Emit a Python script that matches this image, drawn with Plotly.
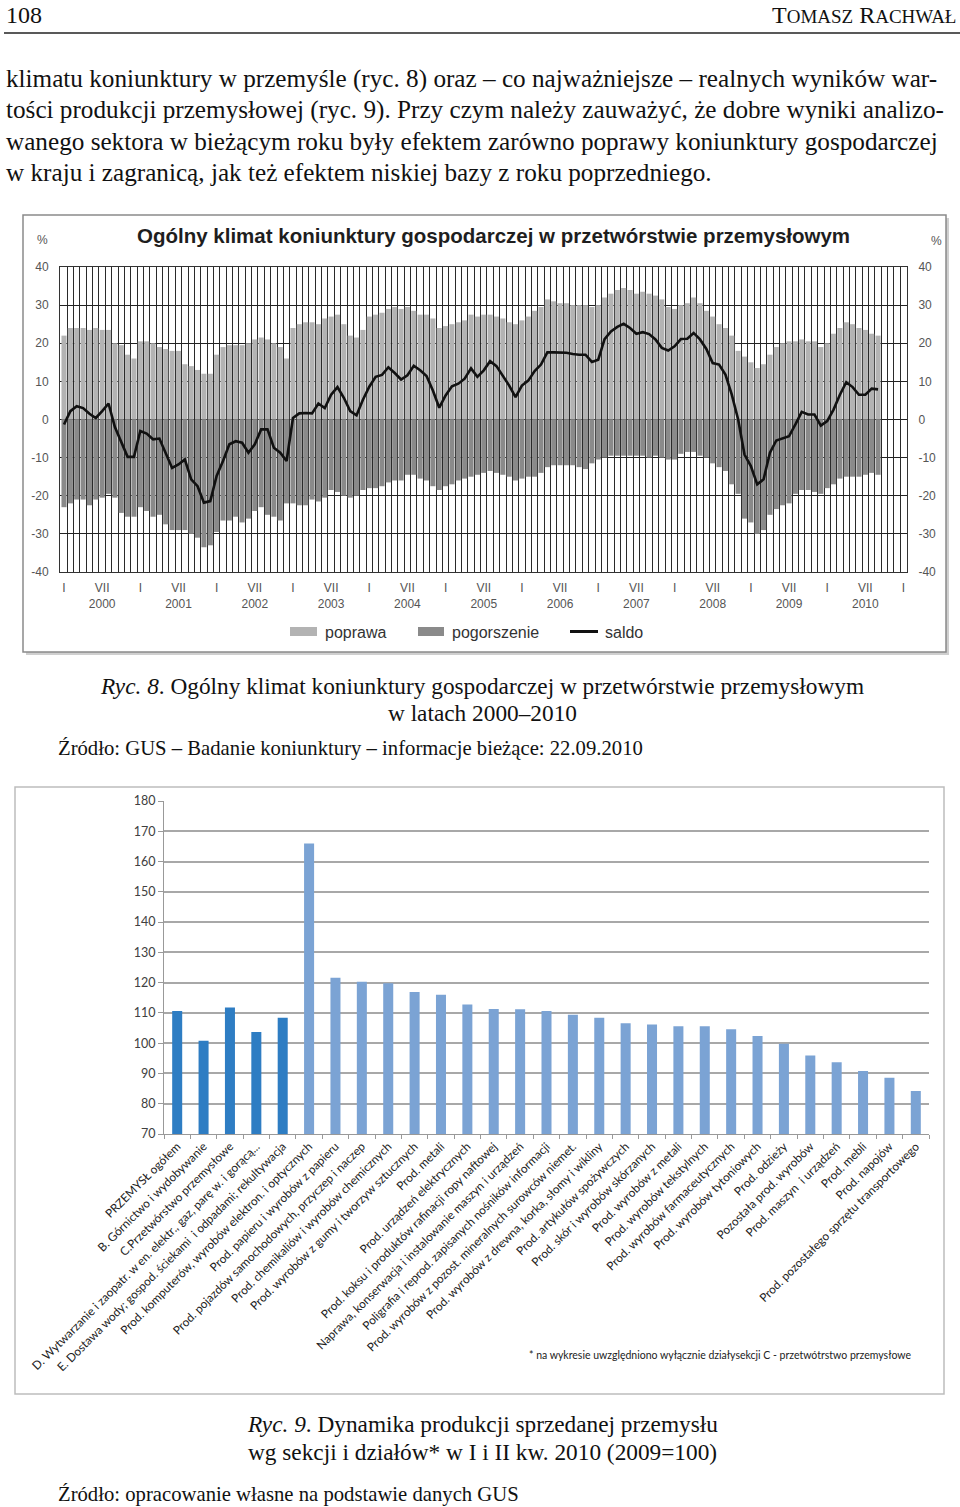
import plotly.graph_objects as go

W, H = 960, 1507


def px(x):
    return x / W


def py(y):
    return 1 - y / H


# ---------------- Ryc. 8 data (monthly, I 2000 - IX 2010) ----------------
poprawa = [
    22, 24, 24, 24, 23.5, 24, 23.5, 23.5, 20, 19.5, 17, 16,
    20.5, 20.5, 20, 19, 18.5, 18, 18, 14.5, 14, 13, 12, 12,
    17, 19, 19.5, 19.5, 19.5, 20, 21, 21.5, 21, 20, 19, 16,
    24, 25, 25.5, 25.5, 25, 26.5, 27, 27.5, 25, 22, 21.5, 23.5,
    27, 27.5, 28, 29, 29.5, 29, 29.5, 28.5, 27.5, 27.5, 26.5, 24,
    24.5, 25, 25.5, 26, 27.5, 27, 27.5, 27.5, 27, 26.5, 25.5, 25,
    26, 27, 28.5, 29.5, 31.5, 31, 30.5, 30.5, 30, 30, 30, 29.5,
    30, 32, 33, 34, 34.5, 34, 33, 33.5, 33, 32.5, 31.5, 29.5,
    29, 30, 30.5, 32, 30.5, 28.5, 27, 25, 24, 22, 18, 16.5,
    15, 13.5, 14.5, 17, 19, 20, 20.5, 20.5, 21, 20.5, 20.5, 19,
    20, 22.5, 24, 25.5, 25, 24, 23.5, 22.5, 22,
]
pogorszenie = [
    -23, -22, -21, -21, -22.5, -21, -20.5, -19.5, -20.5, -24.5, -25.5, -25.5,
    -23, -24, -25.5, -25, -27.5, -29, -29, -29, -30, -31, -33.5, -33,
    -29.5, -26.5, -26.5, -25.5, -27, -26, -24, -23, -25, -25.5, -26.5, -22,
    -22, -22.5, -22.5, -21, -21.5, -20.5, -18.5, -19, -20, -20.5, -20, -18.5,
    -18, -18, -17.5, -16.5, -16, -16, -14.5, -14.5, -15.5, -16, -17.5, -18.5,
    -17.5, -17, -16, -15.5, -15, -14.5, -14, -13.5, -14, -14.5, -15, -16,
    -15.5, -15, -15, -14, -12.5, -12, -12, -12, -12, -12.5, -13, -11.5,
    -10.5, -10, -9.5, -9.5, -9.5, -9.5, -9.5, -9.5, -10, -9.5, -10, -10.5,
    -10.5, -9, -8.5, -8.5, -9.5, -10, -11.5, -12.5, -13.5, -17, -19.5, -26,
    -27, -30, -29, -25, -23.5, -22.5, -22, -19.5, -18.5, -18.5, -19, -19.5,
    -18, -17, -15.5, -15, -15, -15, -14.5, -14, -14.5,
]
saldo = [
    -1.3, 2.2, 3.5, 3, 1.5, 0.4, 2.2, 4.2, -2, -6, -9.8, -9.8,
    -3, -3.7, -5.2, -5, -9, -12.7, -11.8, -10.5, -15.7, -17.5, -21.8, -21.4,
    -14.8, -10.9, -6.5, -5.7, -6.1, -8.7, -6.5, -2.6, -2.6, -7.4, -8.7, -10.9,
    0.4, 1.6, 1.7, 1.6, 4.2, 3, 6.5, 8.5, 5.7, 2.2, 1.1, 5.2,
    8.6, 11.2, 11.7, 13.7, 12.2, 10.5, 11.6, 14.1, 12.9, 11.4, 7.6, 3.1,
    6.3, 8.7, 9.4, 10.7, 13.4, 11.2, 12.9, 15.3, 14, 11.5, 8.9, 5.9,
    8.9, 10.2, 12.7, 14.4, 17.6, 17.6, 17.5, 17.5, 17.2, 17, 17, 15.1,
    15.7, 21.1, 23.1, 24.3, 25.1, 24, 22.5, 22.9, 22.4, 21, 18.8, 18.1,
    19.2, 21.1, 21.2, 22.7, 21, 18.5, 14.8, 14.4, 11.8, 6.5, 0, -9.2,
    -12.2, -17, -15.7, -8.7, -5.5, -5, -4.4, -1.3, 2, 1.3, 1.3, -1.6,
    -0.4, 2.6, 6.5, 9.8, 8.5, 6.5, 6.5, 8.1, 7.9,
]
assert len(poprawa) == len(pogorszenie) == len(saldo) == 129
months = list(range(len(saldo)))  # 0 = I 2000
first_year = 2000
tick_months = list(range(0, 133, 6))
tick_labels = ["I" if m % 12 == 0 else "VII<br>%d" % (first_year + m // 12) for m in tick_months]
y8_ticks = [40, 30, 20, 10, 0, -10, -20, -30, -40]

# ---------------- Ryc. 9 data ----------------
categories = [
    "PRZEMYSŁ ogółem",
    "B. Górnictwo i wydobywanie",
    "C.Przetwórstwo przemysłowe",
    "D. Wytwarzanie i zaopatr. w en. elektr., gaz, parę w. i gorącą...",
    "E. Dostawa wody; gospod. ściekami  i odpadami; rekultywacja",
    "Prod. komputerów, wyrobów elektron. i optycznych",
    "Prod. papieru i wyrobów z papieru",
    "Prod. pojazdów samochodowych, przyczep i naczep",
    "Prod. chemikaliów i wyrobów chemicznych",
    "Prod. wyrobów z gumy i tworzyw sztucznych",
    "Prod. metali",
    "Prod. urządzeń elektrycznych",
    "Prod. koksu i produktów rafinacji ropy naftowej",
    "Naprawa, konserwacja i instalowanie maszyn i urządzeń",
    "Poligrafia i reprod. zapisanych nośników informacji",
    "Prod. wyrobów z pozost. mineralnych surowców niemet.",
    "Prod. wyrobów z drewna, korka, słomy i wikliny",
    "Prod. artykułów spożywczych",
    "Prod. skór i wyrobów skórzanych",
    "Prod. wyrobów z metali",
    "Prod. wyrobów tekstylnych",
    "Prod. wyrobów farmaceutycznych",
    "Prod. wyrobów tytoniowych",
    "Prod. odzieży",
    "Pozostała prod. wyrobów",
    "Prod. maszyn  i urządzeń",
    "Prod. mebli",
    "Prod. napojów",
    "Prod. pozostałego sprzętu transportowego",
]
dynamika = [110.6, 100.8, 111.8, 103.7, 108.4, 166.0, 121.6, 120.3, 119.8, 116.9,
            116.0, 112.8, 111.3, 111.2, 110.6, 109.4, 108.4, 106.6, 106.2, 105.6,
            105.6, 104.6, 102.4, 99.8, 95.9, 93.7, 90.8, 88.6, 84.2]
level = ["sekcja"] * 5 + ["dział"] * 24
assert len(categories) == len(dynamika) == len(level)
level_colors = {"sekcja": "#2e7dc3", "dział": "#7ba3d4"}

fig = go.Figure()

# Ryc. 8 traces
fig.add_trace(go.Bar(x=months, y=poprawa, marker=dict(color="#b3b3b3", line=dict(width=0)),
                     width=0.8, xaxis="x", yaxis="y", showlegend=False, name="poprawa"))
fig.add_trace(go.Bar(x=months, y=pogorszenie, marker=dict(color="#8a8a8a", line=dict(width=0)),
                     width=0.8, xaxis="x", yaxis="y", showlegend=False, name="pogorszenie"))
fig.add_trace(go.Scatter(x=months, y=saldo, mode="lines", line=dict(color="#111111", width=2.6),
                         xaxis="x", yaxis="y2", showlegend=False, name="saldo"))

# Ryc. 9 trace
fig.add_trace(go.Bar(x=categories, y=dynamika, marker=dict(color=[level_colors[l] for l in level], line=dict(width=0)),
                     xaxis="x2", yaxis="y3", showlegend=False))

axis_font8 = dict(family="Liberation Sans, Arial", size=12, color="#555555")

fig.update_layout(
    width=W, height=H,
    margin=dict(l=0, r=0, t=0, b=0),
    paper_bgcolor="white", plot_bgcolor="white",
    template="none",
    barmode="overlay",
    bargap=0.62,
    xaxis=dict(domain=[px(60), px(907)], anchor="y", range=[-0.63, 132.55],
               tickmode="array", tickvals=tick_months, ticktext=tick_labels,
               tickfont=axis_font8, ticks="outside", ticklen=5, tickcolor="rgba(0,0,0,0)",
               showgrid=False, zeroline=False, showline=True, linecolor="#333", linewidth=1, mirror=True,
               minor=dict(tick0=0.5, dtick=1, showgrid=True, gridcolor="#2a2a2a", gridwidth=1, ticks=""),
               automargin=False, fixedrange=True),
    yaxis=dict(domain=[py(572), py(267)], anchor="x", range=[-40, 40],
               tickmode="array", tickvals=y8_ticks, ticktext=[str(v) for v in y8_ticks],
               tickfont=axis_font8, ticks="outside", ticklen=8, tickcolor="rgba(0,0,0,0)",
               showgrid=True, gridcolor="#222", gridwidth=1, zeroline=False,
               showline=True, linecolor="#333", mirror=True, automargin=False),
    yaxis2=dict(overlaying="y", side="right", anchor="x", range=[-40, 40],
                tickmode="array", tickvals=y8_ticks, ticktext=[str(v) for v in y8_ticks],
                tickfont=axis_font8, ticks="outside", ticklen=8, tickcolor="rgba(0,0,0,0)",
                showgrid=False, zeroline=False, showline=False, automargin=False),
    xaxis2=dict(domain=[px(164), px(929)], anchor="y3", type="category",
                tickangle=-45, tickfont=dict(family="Lato, Carlito, Calibri", size=11.8, color="#222"),
                ticks="outside", tickson="boundaries", ticklen=4, tickcolor="#999",
                showgrid=False, zeroline=False, showline=True, linecolor="#999", linewidth=1,
                automargin=False),
    yaxis3=dict(domain=[py(1134), py(801)], anchor="x2", range=[70, 180], dtick=10, tick0=70,
                tickfont=dict(family="Lato, Carlito, Calibri", size=12.5, color="#404040"),
                ticks="outside", ticklen=5, tickcolor="#999",
                showgrid=True, gridcolor="#a8a8a8", gridwidth=2, zeroline=False,
                showline=True, linecolor="#999", automargin=False),
)

shapes = []
# header rule
shapes.append(dict(type="line", xref="paper", yref="paper", x0=px(4), x1=px(960), y0=py(33), y1=py(33),
                   line=dict(color="#222", width=1.5)))
# Ryc. 8 frame with shadow
shapes.append(dict(type="rect", xref="paper", yref="paper", x0=px(26), x1=px(949), y0=py(655), y1=py(218),
                   line=dict(width=0), fillcolor="#cfcfcf", layer="below"))
shapes.append(dict(type="rect", xref="paper", yref="paper", x0=px(23), x1=px(946), y0=py(652), y1=py(215),
                   line=dict(color="#8a8a8a", width=1.5), fillcolor="white", layer="below"))
# Ryc. 9 frame
shapes.append(dict(type="rect", xref="paper", yref="paper", x0=px(15), x1=px(944), y0=py(1394), y1=py(787),
                   line=dict(color="#bdbdbd", width=1.5), fillcolor="rgba(0,0,0,0)", layer="below"))
# Ryc. 8 legend swatches
shapes.append(dict(type="rect", xref="paper", yref="paper", x0=px(290), x1=px(317), y0=py(636), y1=py(627),
                   line=dict(width=0), fillcolor="#b3b3b3"))
shapes.append(dict(type="rect", xref="paper", yref="paper", x0=px(418), x1=px(444), y0=py(636), y1=py(627),
                   line=dict(width=0), fillcolor="#8a8a8a"))
shapes.append(dict(type="line", xref="paper", yref="paper", x0=px(570), x1=px(598), y0=py(631.5), y1=py(631.5),
                   line=dict(color="#111", width=3)))
fig.update_layout(shapes=shapes)

serif = "Liberation Serif, Times New Roman, serif"
ann = []


def text(x, y, s, size, family=serif, anchor="left", color="#111", **kw):
    ann.append(dict(x=px(x), y=py(y), xref="paper", yref="paper", text=s, showarrow=False,
                    xanchor=anchor, yanchor="middle", font=dict(family=family, size=size, color=color), **kw))


# header
text(4, 15, "108", 24)
text(958, 15, "T<span style='font-size:19px'>OMASZ</span> R<span style='font-size:19px'>ACHWAŁ</span>", 24,
     anchor="right")
# body
body = [
    "klimatu koniunktury w przemyśle (ryc. 8) oraz – co najważniejsze – realnych wyników war-",
    "tości produkcji przemysłowej (ryc. 9). Przy czym należy zauważyć, że dobre wyniki analizo-",
    "wanego sektora w bieżącym roku były efektem zarówno poprawy koniunktury gospodarczej",
    "w kraju i zagranicą, jak też efektem niskiej bazy z roku poprzedniego.",
]
for i, line in enumerate(body):
    text(4, 79 + 31 * i, line, 25.2)

# Ryc. 8 inner texts
sans = "Liberation Sans, Arial, sans-serif"
text(494, 236, "<b>Ogólny klimat koniunktury gospodarczej w przetwórstwie przemysłowym</b>", 20.5,
     family=sans, anchor="center", color="#1e1e1e")
text(42, 240, "%", 12, family=sans, anchor="center", color="#555")
text(936, 241, "%", 12, family=sans, anchor="center", color="#555")
text(323, 632, "poprawa", 16, family=sans, color="#333")
text(450, 632, "pogorszenie", 16, family=sans, color="#333")
text(603, 632, "saldo", 16, family=sans, color="#333")

# captions
text(482, 686, "<i>Ryc. 8</i>. Ogólny klimat koniunktury gospodarczej w przetwórstwie przemysłowym", 23.3,
     anchor="center")
text(482, 713, "w latach 2000–2010", 23.3, anchor="center")
text(56, 748, "Źródło: GUS – Badanie koniunktury – informacje bieżące: 22.09.2010", 20.7)

# Ryc. 9 footnote & captions
text(527, 1355, "* na wykresie uwzględniono wyłącznie działysekcji C - przetwótrstwo przemysłowe", 10.5,
     family="Lato, Carlito, Calibri", color="#222")
text(482, 1424, "<i>Ryc. 9</i>. Dynamika produkcji sprzedanej przemysłu", 23.3, anchor="center")
text(482, 1452, "wg sekcji i działów* w I i II kw. 2010 (2009=100)", 23.3, anchor="center")
text(56, 1494, "Źródło: opracowanie własne na podstawie danych GUS", 20.7)

fig.update_layout(annotations=ann)

fig.write_html("out.html",
               config={"displayModeBar": False, "staticPlot": True},
               post_script="document.body.style.margin='0';document.body.style.padding='0';"
                           "document.body.style.overflow='hidden';")
